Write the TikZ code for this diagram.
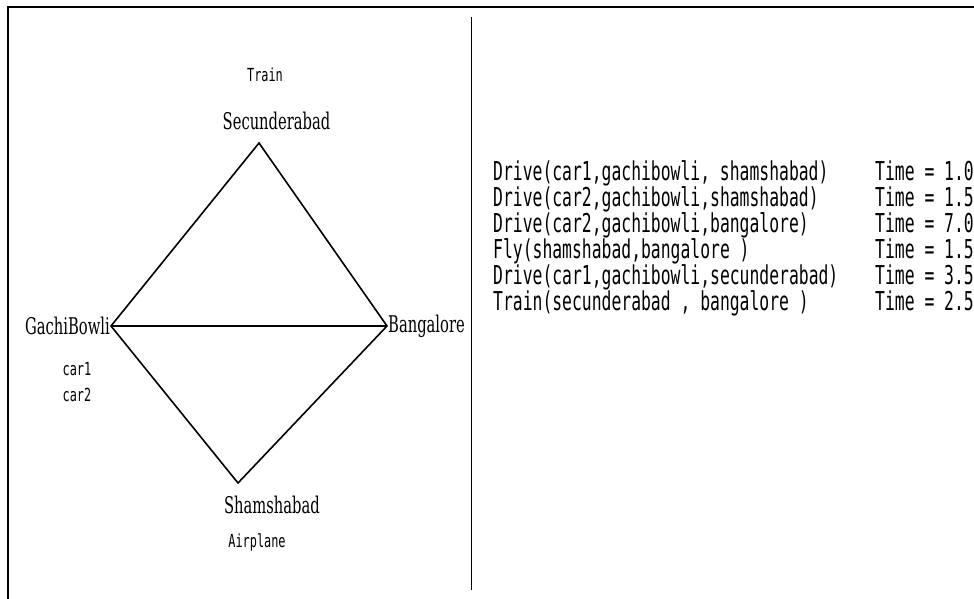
\documentclass[tikz,border=0pt]{standalone}
\usepackage{fontspec}
\newfontfamily\monof[FakeStretch=0.63]{DejaVu Sans Mono}
\newfontfamily\smallmono[FakeStretch=0.66]{DejaVu Sans Mono}
\newfontfamily\seriff[FakeStretch=0.64]{DejaVu Serif}
\tikzset{
  city/.style={font=\seriff\fontsize{23}{26}\selectfont, inner sep=1pt},
  tag/.style={font=\smallmono\fontsize{18}{20}\selectfont, inner sep=0pt},
  step line/.style={font=\monof\fontsize{26}{28}\selectfont, inner sep=0pt, anchor=base west},
  edge/.style={line width=1.6pt},
}
\begin{document}
\begin{tikzpicture}[x=1pt,y=-1pt]
\useasboundingbox (0,0) rectangle (974,599);
% frame
\draw[line width=2.5pt] (8,599) -- (8,7) -- (974,7);
\draw[line width=1pt] (471,17) -- (471,590);
% vertices
\coordinate (sec) at (259,143);
\coordinate (gac) at (111,326);
\coordinate (ban) at (387,326);
\coordinate (sha) at (238,483);
\draw[edge, line join=miter] (gac) -- (sec) -- (ban) -- (sha) -- cycle;
\draw[edge] (gac) -- (ban);
% labels
\node[city, anchor=base] (secl) at (276.5,130) {Secunderabad};
\node[city, anchor=east] (gacl) at (gac) {GachiBowli};
\node[city, anchor=west] (banl) at (ban) {Bangalore};
\node[city, anchor=base] (shal) at (272,513) {Shamshabad};
\node[tag, anchor=base] (train) at (265,82) {Train};
\node[tag, anchor=base] (air) at (257,547) {Airplane};
\node[tag, anchor=base] (car1) at (77,375) {car1};
\node[tag, anchor=base] (car2) at (77,401) {car2};
% right side
\node[step line] (l1) at (493,180) {Drive(car1,gachibowli, shamshabad)};
\node[step line] (l2) at (493,206) {Drive(car2,gachibowli,shamshabad)};
\node[step line] (l3) at (493,232) {Drive(car2,gachibowli,bangalore)};
\node[step line] (l4) at (493,258) {Fly(shamshabad,bangalore )};
\node[step line] (l5) at (493,284) {Drive(car1,gachibowli,secunderabad)};
\node[step line] (l6) at (493,310) {Train(secunderabad , bangalore )};
\node[step line] (t1) at (875,180) {Time = 1.0};
\node[step line] (t2) at (875,206) {Time = 1.5};
\node[step line] (t3) at (875,232) {Time = 7.0};
\node[step line] (t4) at (875,258) {Time = 1.5};
\node[step line] (t5) at (875,284) {Time = 3.5};
\node[step line] (t6) at (875,310) {Time = 2.5};
\end{tikzpicture}
\end{document}
